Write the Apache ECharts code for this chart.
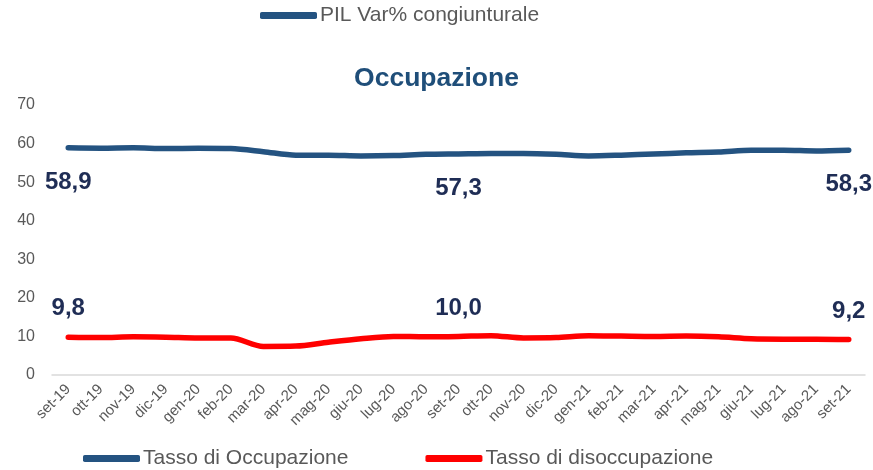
<!DOCTYPE html>
<html>
<head>
<meta charset="utf-8">
<script src="https://cdn.jsdelivr.net/npm/echarts@6/dist/echarts.min.js"></script>
<style>html,body{margin:0;padding:0;background:#fff}#c{width:873px;height:470px}</style>
</head>
<body>
<div id="c"></div>
<script>
const categories = ['set-19','ott-19','nov-19','dic-19','gen-20','feb-20','mar-20','apr-20','mag-20','giu-20','lug-20','ago-20','set-20','ott-20','nov-20','dic-20','gen-21','feb-21','mar-21','apr-21','mag-21','giu-21','lug-21','ago-21','set-21'];
const occupazione = [58.9,58.8,58.9,58.7,58.8,58.7,57.9,57.0,57.0,56.8,56.9,57.2,57.3,57.4,57.4,57.2,56.8,57.0,57.3,57.6,57.8,58.3,58.3,58.1,58.3];
const disoccupazione = [9.8,9.7,9.9,9.8,9.6,9.6,7.4,7.5,8.5,9.4,10.0,9.9,10.0,10.2,9.6,9.7,10.2,10.1,10.0,10.1,9.9,9.4,9.3,9.3,9.2];
const labelIdx = [0,12,24];
const yTicks = {min:0, max:70, interval:10};

const fmt = v => v.toFixed(1).replace('.', ',');
const FONT = 'Liberation Sans, Arial, sans-serif';
const NAVY = '#245381';
const RED = '#ff0000';
const LBL = '#1f2d55';

const chart = echarts.init(document.getElementById('c'));
chart.setOption({
  animation:false,
  textStyle:{fontFamily:FONT},
  title:{text:'Occupazione', left:'center', top:60, textStyle:{fontSize:26.5, fontWeight:'bold', color:'#1f4e79', fontFamily:FONT}},
  legend:[
    {data:['PIL Var% congiunturale'], left:255, top:0, icon:'roundRect', itemWidth:57, itemHeight:7,
     textStyle:{fontSize:21, color:'#595959', fontFamily:FONT, padding:[0,0,0,-2]}},
    {data:['Tasso di Occupazione','Tasso di disoccupazione'], left:78, top:443, icon:'roundRect', itemWidth:57, itemHeight:7, itemGap:77,
     textStyle:{fontSize:21, color:'#595959', fontFamily:FONT, padding:[0,0,0,-2]}}
  ],
  grid:{left:52, right:8, top:105, bottom:95},
  xAxis:{type:'category', data:categories, boundaryGap:true,
    axisLine:{lineStyle:{color:'#d9d9d9', width:1.5}}, axisTick:{show:false},
    axisLabel:{rotate:45, fontSize:15, color:'#595959', margin:12, interval:0, fontFamily:FONT}},
  yAxis:{type:'value', min:yTicks.min, max:yTicks.max, interval:yTicks.interval,
    axisLine:{show:false}, axisTick:{show:false}, splitLine:{show:false},
    axisLabel:{fontSize:16, color:'#595959', margin:17, fontFamily:FONT}},
  series:[
    {name:'PIL Var% congiunturale', type:'line', data:[], itemStyle:{color:NAVY}, lineStyle:{color:NAVY, width:5}},
    {name:'Tasso di Occupazione', type:'line', data:occupazione, smooth:0.3, showSymbol:true, symbol:'circle', symbolSize:1,
     itemStyle:{color:NAVY}, lineStyle:{color:NAVY, width:5.5, cap:'round'},
     label:{show:true, position:'bottom', distance:22, fontSize:24, fontWeight:'bold', color:LBL, fontFamily:FONT,
       formatter:p => labelIdx.includes(p.dataIndex) ? fmt(p.value) : ''}},
    {name:'Tasso di disoccupazione', type:'line', data:disoccupazione, smooth:0.3, showSymbol:true, symbol:'circle', symbolSize:1,
     itemStyle:{color:RED}, lineStyle:{color:RED, width:5.5, cap:'round'},
     label:{show:true, position:'top', distance:16, fontSize:24, fontWeight:'bold', color:LBL, fontFamily:FONT,
       formatter:p => labelIdx.includes(p.dataIndex) ? fmt(p.value) : ''}}
  ]
});
</script>
</body>
</html>
